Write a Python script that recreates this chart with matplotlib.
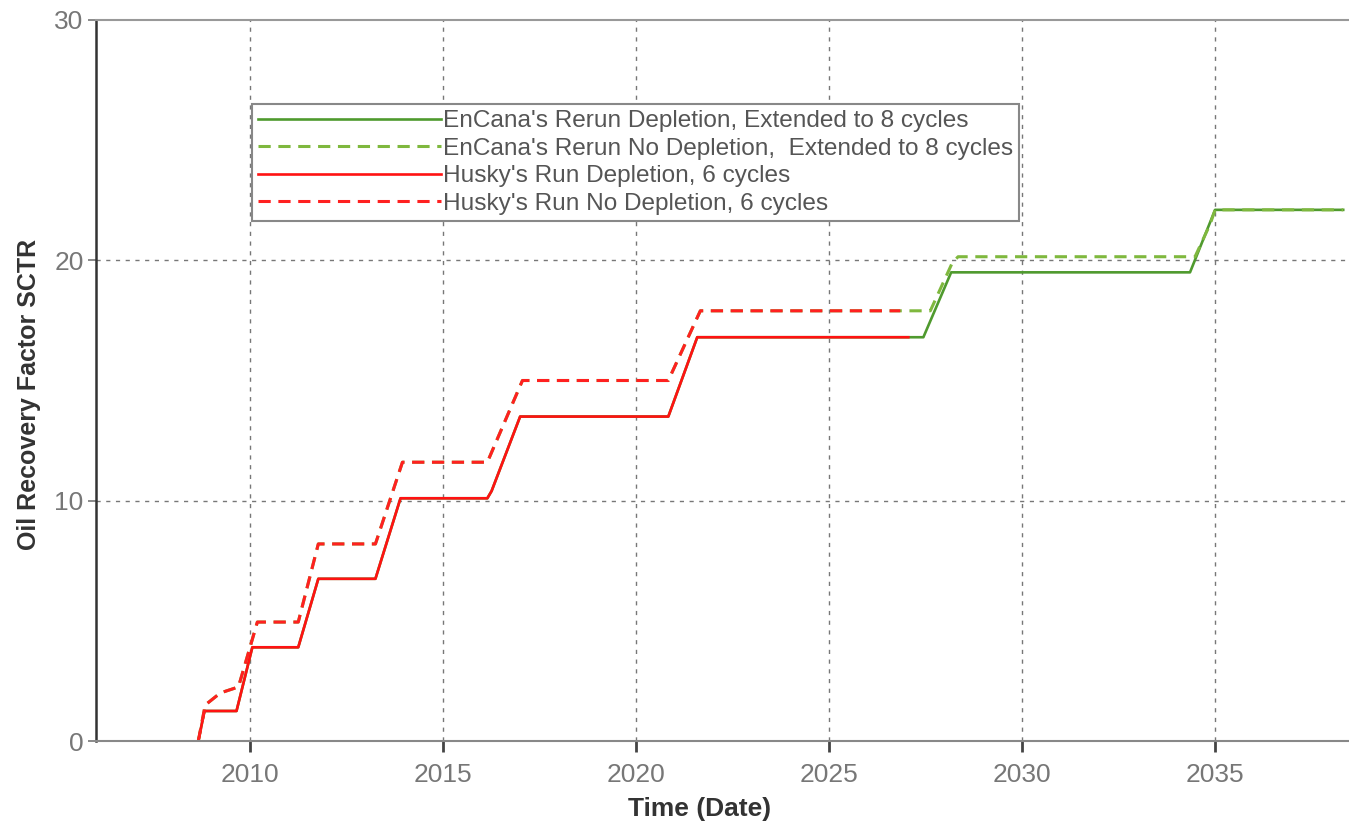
import matplotlib.pyplot as plt

plt.rcParams['font.family'] = ['Liberation Sans', 'DejaVu Sans']

# Husky's run (years as decimal dates, recovery factor in %)
husky_dep_t = [2008.65, 2008.81, 2009.64, 2010.05, 2011.24, 2011.76, 2013.24,
               2013.89, 2016.14, 2016.25, 2016.99, 2020.83, 2021.58, 2027.05]
husky_dep_y = [0.0, 1.25, 1.25, 3.9, 3.9, 6.75, 6.75,
               10.1, 10.1, 10.4, 13.5, 13.5, 16.8, 16.8]

husky_nodep_t = [2008.65, 2008.83, 2009.22, 2009.69, 2010.18, 2011.24, 2011.76,
                 2013.24, 2013.94, 2016.14, 2017.05, 2020.83, 2021.66, 2026.84]
husky_nodep_y = [0.0, 1.5, 2.0, 2.25, 4.95, 4.95, 8.2,
                 8.2, 11.6, 11.6, 15.0, 15.0, 17.9, 17.9]

# EnCana's rerun, extended to 8 cycles
encana_dep_t = husky_dep_t + [2027.44, 2028.16, 2034.35, 2035.0, 2038.32]
encana_dep_y = husky_dep_y + [16.8, 19.5, 19.5, 22.1, 22.1]

encana_nodep_t = husky_nodep_t + [2027.62, 2028.19, 2028.34, 2034.48, 2034.87, 2035.0, 2038.32]
encana_nodep_y = husky_nodep_y + [17.9, 19.9, 20.15, 20.15, 21.5, 22.1, 22.1]

labels = ["EnCana's Rerun Depletion, Extended to 8 cycles",
          "EnCana's Rerun No Depletion,  Extended to 8 cycles",
          "Husky's Run Depletion, 6 cycles",
          "Husky's Run No Depletion, 6 cycles"]

fig = plt.figure(figsize=(13.49, 8.22), dpi=100)
ax = fig.add_axes([0.0712, 0.0985, 0.9288, 0.8772])

ax.plot(encana_dep_t, encana_dep_y, color='#4f9a2e', lw=1.9, label=labels[0])
ax.plot(encana_nodep_t, encana_nodep_y, color='#7fb83e', lw=2.2,
        ls=(0, (4, 2.5)), label=labels[1])
ax.plot(husky_dep_t, husky_dep_y, color='#ff1212', lw=1.9, label=labels[2])
ax.plot(husky_nodep_t, husky_nodep_y, color='#ff2020', lw=2.2,
        ls=(0, (4, 2.5)), label=labels[3])

ax.set_xlim(2006.0, 2038.47)
ax.set_ylim(0, 30)
ax.set_xticks([2010, 2015, 2020, 2025, 2030, 2035])
ax.set_yticks([0, 10, 20, 30])

ax.grid(True, color='#777777', ls=(0, (3, 4)), lw=1.0)
for tl in ax.get_ygridlines()[::3]:
    tl.set_visible(False)

ax.tick_params(axis='x', direction='out', length=8, width=2, color='#444444',
               labelsize=19, labelcolor='#777777', pad=8)
ax.tick_params(axis='y', direction='out', length=6, width=1.2, color='#777777',
               labelsize=19, labelcolor='#777777', pad=3)

ax.spines['right'].set_visible(False)
ax.spines['top'].set_color('#999999')
ax.spines['top'].set_linewidth(1.5)
ax.spines['bottom'].set_color('#888888')
ax.spines['bottom'].set_linewidth(1.5)
ax.spines['left'].set_color('#333333')
ax.spines['left'].set_linewidth(1.8)

ax.set_xlabel('Time (Date)', fontsize=19, fontweight='bold', color='#333333')
ax.xaxis.set_label_coords(0.482, -0.077)
ax.set_ylabel('Oil Recovery Factor SCTR', fontsize=18, fontweight='bold', color='#333333')
ax.yaxis.set_label_coords(-0.044, 0.48)

leg = ax.legend(loc='upper left', bbox_to_anchor=(0.1245, 0.8835), fontsize=17.6,
                handlelength=7.5, handletextpad=0.05, labelspacing=0.22,
                borderpad=0.25, borderaxespad=0, fancybox=False, framealpha=1)
leg.get_frame().set_edgecolor('#888888')
leg.get_frame().set_linewidth(1.5)
for txt in leg.get_texts():
    txt.set_color('#555555')

fig.savefig('out.png', dpi=100)
